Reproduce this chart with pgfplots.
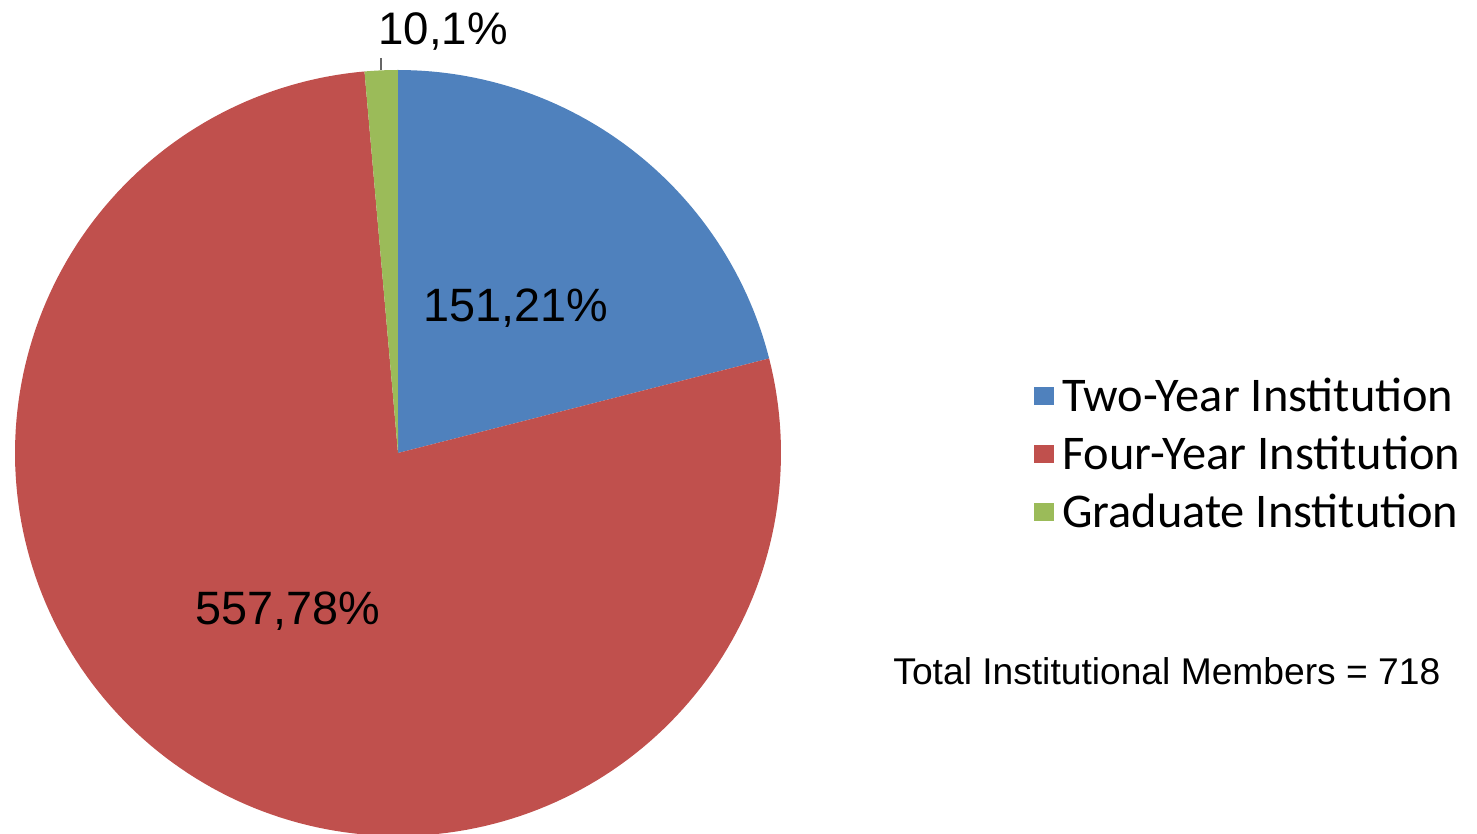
\documentclass[border=0pt]{standalone}
\usepackage{pgfplots}
\pgfplotsset{compat=1.18}
\usepackage{fontspec}
\setmainfont{Liberation Sans}
\newfontfamily\legfont{Carlito}
\definecolor{cTwo}{HTML}{4F81BD}
\definecolor{cFour}{HTML}{C0504D}
\definecolor{cGrad}{HTML}{9BBB59}
\begin{document}
\begin{tikzpicture}
% data: number of institutional members
\def\vTwo{151}
\def\vFour{557}
\def\vGrad{10}
\pgfmathsetmacro\tot{\vTwo+\vFour+\vGrad}
\pgfmathsetmacro\aA{90}
\pgfmathsetmacro\aB{90-\vTwo/\tot*360}
\pgfmathsetmacro\aC{\aB-\vFour/\tot*360}
\pgfmathsetmacro\aD{\aC-\vGrad/\tot*360}
\begin{axis}[
  hide axis, scale only axis,
  width=738.5pt, height=417pt,
  xmin=0, xmax=1477, ymin=0, ymax=834,
  legend cell align=left,
  legend image code/.code={\fill[#1] (0pt,0.8pt) rectangle (10pt,9.8pt);},
  legend style={at={(axis cs:1034,456)}, anchor=north west, draw=none, fill=none,
    inner sep=0pt, outer sep=0pt,
    font=\legfont\fontsize{24.2pt}{28pt}\selectfont,
    nodes={inner sep=0pt, text height=17pt, text depth=12pt},
    row sep=0pt,
    /tikz/every odd column/.append style={column sep=4pt}},
]
\path (0,0) (1477,834);
\addplot[fill=cTwo, draw=none, domain=\aB:\aA, samples=60]
  ({398+383*cos(x)},{381+383*sin(x)}) -- (398,381) -- cycle;
\addlegendentry{Two-Year Institution}
\addplot[fill=cFour, draw=none, domain=\aC:\aB, samples=200]
  ({398+383*cos(x)},{381+383*sin(x)}) -- (398,381) -- cycle;
\addlegendentry{Four-Year Institution}
\addplot[fill=cGrad, draw=none, domain=\aD:\aC, samples=10]
  ({398+383*cos(x)},{381+383*sin(x)}) -- (398,381) -- cycle;
\addlegendentry{Graduate Institution}
\node[anchor=base, font=\fontsize{23.4pt}{28pt}\selectfont] at (515.5,512) {151,21\%};
\node[anchor=base, font=\fontsize{23.4pt}{28pt}\selectfont] at (287.5,209) {557,78\%};
\node[anchor=base, font=\fontsize{22.8pt}{28pt}\selectfont] at (443,789) {10,1\%};
\draw[black!60, line width=0.6pt] (381,776) -- (381,764);
\node[anchor=base west, inner sep=0pt, font=\fontsize{18.6pt}{22pt}\selectfont] at (893,149) {Total Institutional Members = 718};
\end{axis}
\end{tikzpicture}
\end{document}
